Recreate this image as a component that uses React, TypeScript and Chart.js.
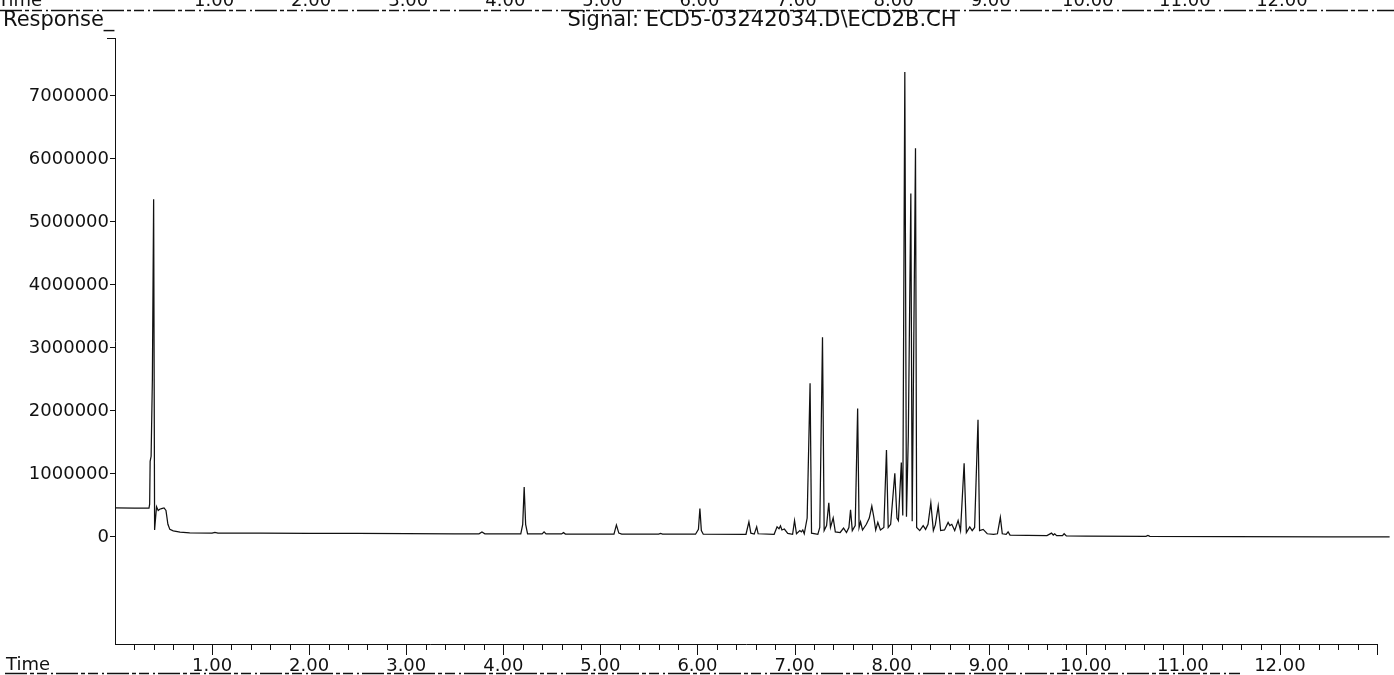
import React, { useEffect, useRef } from "react";
import { Chart, registerables } from "chart.js";

Chart.register(...registerables);

const signalTitle = "Signal: ECD5-03242034.D\\ECD2B.CH";
const yTitle = "Response_";
const xTitle = "Time";

const retentionTimes = [
  0.0, 0.2, 0.35, 0.357, 0.362, 0.372, 0.385, 0.398, 0.408, 0.418, 0.428, 0.445, 0.46, 0.48, 0.505, 0.525, 0.545, 0.565, 0.6, 0.67, 0.77,
  1.0, 1.03, 1.06, 1.5, 2.0, 2.5, 3.0, 3.5, 3.75, 3.78, 3.81, 4.18, 4.2, 4.215, 4.23, 4.25, 4.4, 4.42, 4.44, 4.6, 4.62, 4.64,
  5.14, 5.165, 5.19, 5.22, 5.6, 5.62, 5.64, 5.98, 6.01, 6.025, 6.04, 6.06, 6.5, 6.53, 6.55, 6.585, 6.61, 6.625, 6.79, 6.82, 6.84, 6.855, 6.87, 6.895, 6.93, 6.98,
  7.0, 7.02, 7.055, 7.07, 7.085, 7.1, 7.13, 7.16, 7.175, 7.24, 7.26, 7.288, 7.305, 7.33, 7.353, 7.37, 7.398, 7.42, 7.47, 7.505, 7.535, 7.56, 7.577, 7.595, 7.625,
  7.65, 7.665, 7.68, 7.7, 7.74, 7.77, 7.796, 7.816, 7.836, 7.858, 7.885, 7.92, 7.947, 7.965, 7.99,
  8.033, 8.055, 8.07, 8.1, 8.115, 8.136, 8.153, 8.172, 8.198, 8.212, 8.246, 8.258, 8.29, 8.325, 8.35, 8.375, 8.404, 8.43, 8.45, 8.48, 8.505, 8.545, 8.582, 8.6, 8.62,
  8.65, 8.685, 8.71, 8.747, 8.77, 8.805, 8.83, 8.855, 8.89, 8.906, 8.943, 8.985,
  9.05, 9.09, 9.12, 9.14, 9.18, 9.2, 9.22, 9.4, 9.6, 9.647, 9.665, 9.68, 9.7, 9.76, 9.777, 9.8,
  10.0, 10.62, 10.64, 10.66, 11.5, 12.5, 13.13,
];

const responses = [
  460000, 455000, 455000, 520000, 1200000, 1280000, 2500000, 5360000, 110000, 300000, 480000, 420000, 440000, 450000, 460000, 420000, 200000, 120000, 95000, 75000, 65000,
  62000, 72000, 62000, 60000, 58000, 55000, 52000, 50000, 50000, 78000, 50000, 48000, 200000, 790000, 200000, 50000, 48000, 80000, 48000, 47000, 68000, 46000,
  45000, 190000, 60000, 45000, 44000, 55000, 44000, 43000, 120000, 450000, 100000, 43000, 42000, 240000, 60000, 45000, 160000, 50000, 42000, 160000, 130000, 175000, 110000, 125000, 55000, 42000,
  260000, 50000, 100000, 80000, 110000, 50000, 300000, 2440000, 60000, 40000, 150000, 3170000, 100000, 180000, 540000, 150000, 300000, 80000, 70000, 140000, 70000, 150000, 430000, 100000, 180000,
  2040000, 150000, 240000, 110000, 200000, 300000, 490000, 320000, 110000, 230000, 110000, 150000, 1380000, 150000, 200000,
  1010000, 300000, 260000, 1180000, 340000, 7380000, 320000, 1600000, 5450000, 250000, 6170000, 150000, 100000, 180000, 120000, 200000, 540000, 100000, 190000, 490000, 100000, 110000, 230000, 180000, 200000,
  100000, 260000, 100000, 1170000, 70000, 160000, 100000, 150000, 1860000, 100000, 120000, 50000,
  40000, 50000, 310000, 50000, 40000, 80000, 30000, 25000, 20000, 60000, 30000, 50000, 20000, 20000, 50000, 15000,
  12000, 10000, 25000, 8000, 5000, 0, 0,
];

const yTickValues = [0, 1000000, 2000000, 3000000, 4000000, 5000000, 6000000, 7000000];
const topGhostLabels = ["1.00", "2.00", "3.00", "4.00", "5.00", "6.00", "7.00", "8.00", "9.00", "10.00", "11.00", "12.00"];
const topGhostMinutes = [1, 2, 3, 4, 5, 6, 7, 8, 9, 10, 11, 12];

const FONT = '"DejaVu Sans", "Liberation Sans", Arial, sans-serif';
const INK = "#111111";

const decorPlugin = {
  id: "decor",
  beforeDraw(chart: any) {
    const ctx = chart.ctx;
    ctx.save();
    ctx.fillStyle = "#ffffff";
    ctx.fillRect(0, 0, chart.width, chart.height);
    ctx.restore();
  },
  afterDraw(chart: any) {
    const ctx = chart.ctx;
    const xs = chart.scales.x;
    const { left, top, bottom } = chart.chartArea;
    ctx.save();
    ctx.strokeStyle = INK;
    ctx.lineWidth = 1;
    // x tick marks: minor each 0.2 min, major each minute
    for (let i = 1; i <= 65; i++) {
      const px = Math.round(xs.getPixelForValue(i / 5)) + 0.5;
      const major = i % 5 === 0;
      ctx.beginPath();
      ctx.moveTo(px, bottom);
      ctx.lineTo(px, bottom + (major ? 11 : 6));
      ctx.stroke();
    }
    // little corner at top of y axis
    ctx.beginPath();
    ctx.moveTo(left - 8, Math.round(top) + 0.5);
    ctx.lineTo(left, Math.round(top) + 0.5);
    ctx.stroke();

    ctx.fillStyle = INK;
    ctx.font = `21px ${FONT}`;
    ctx.textBaseline = "alphabetic";
    ctx.textAlign = "left";
    ctx.fillText(yTitle, 3, 26);
    ctx.textAlign = "center";
    ctx.fillText(signalTitle, 762, 26);
    ctx.font = `18px ${FONT}`;
    ctx.textAlign = "left";
    ctx.fillText(xTitle, 6, 670);

    // ghost labels from the previous trace, cut at the top edge
    ctx.textAlign = "center";
    topGhostMinutes.forEach((m, i) => {
      ctx.fillText(topGhostLabels[i], xs.getPixelForValue(m) + 2, 6);
    });
    ctx.textAlign = "left";
    ctx.fillText(xTitle, -2, 6);

    // dashed rules
    ctx.lineWidth = 1.5;
    ctx.setLineDash([22, 3, 4, 3, 10, 4, 2, 3]);
    ctx.beginPath();
    ctx.moveTo(0, 10.5);
    ctx.lineTo(1394, 10.5);
    ctx.stroke();
    ctx.beginPath();
    ctx.moveTo(5, 673.5);
    ctx.lineTo(1240, 673.5);
    ctx.stroke();
    ctx.restore();
  },
};

export default function App() {
  const canvasRef = useRef<HTMLCanvasElement | null>(null);

  useEffect(() => {
    if (!canvasRef.current) return;
    const points = retentionTimes.map((t, i) => ({ x: t, y: responses[i] }));
    const chart = new Chart(canvasRef.current, {
      type: "line",
      data: {
        datasets: [
          {
            data: points,
            borderColor: INK,
            borderWidth: 1.25,
            pointRadius: 0,
            tension: 0,
            fill: false,
            clip: false as any,
          },
        ],
      },
      options: {
        animation: false,
        responsive: false,
        devicePixelRatio: 1,
        events: [],
        layout: { padding: { top: 38, bottom: 0, left: 0, right: 17 } },
        plugins: { legend: { display: false }, tooltip: { enabled: false }, title: { display: false } },
        scales: {
          x: {
            type: "linear",
            min: 0,
            max: 13,
            afterFit: (s: any) => {
              s.height = 31;
            },
            ticks: {
              stepSize: 1,
              autoSkip: false,
              maxRotation: 0,
              padding: 12,
              color: INK,
              font: { family: FONT, size: 18 },
              callback: (v: any) => (v >= 1 && v <= 12 ? Number(v).toFixed(2) : ""),
            },
            grid: { display: true, drawOnChartArea: false, drawTicks: false, color: INK },
            border: { display: true, color: INK, width: 1 },
          },
          y: {
            type: "linear",
            min: -1700000,
            max: 7920000,
            afterFit: (s: any) => {
              s.width = 115;
            },
            afterBuildTicks: (s: any) => {
              s.ticks = yTickValues.map((v) => ({ value: v }));
            },
            ticks: {
              padding: 1,
              color: INK,
              font: { family: FONT, size: 18 },
              callback: (v: any) => String(v),
            },
            grid: { display: true, drawOnChartArea: false, drawTicks: true, tickLength: 5, color: INK },
            border: { display: true, color: INK, width: 1 },
          },
        },
      },
      plugins: [decorPlugin],
    });
    return () => chart.destroy();
  }, []);

  return (
    <div style={{ position: "fixed", left: 0, top: 0, width: 1394, height: 675, background: "#fff" }}>
      <canvas ref={canvasRef} width={1394} height={675} />
    </div>
  );
}
